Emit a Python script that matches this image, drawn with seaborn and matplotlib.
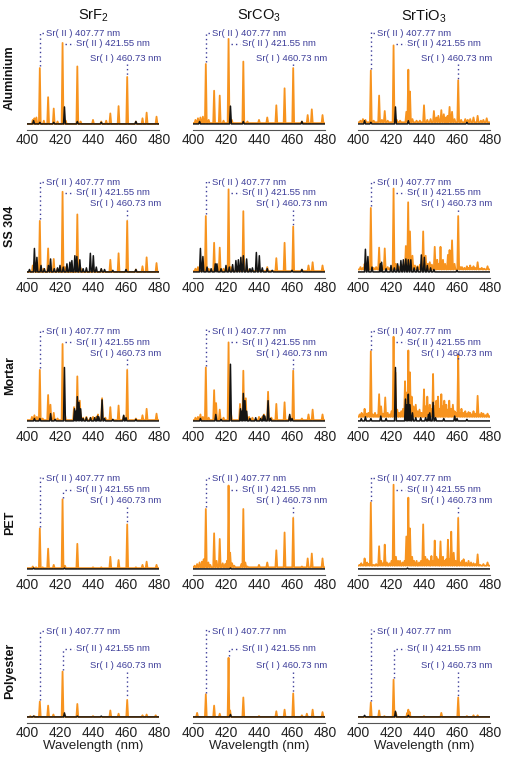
import matplotlib
matplotlib.use("Agg")
import matplotlib.pyplot as plt
import seaborn as sns

# ---------------- data ----------------
COMPOUNDS = ["SrF$_2$", "SrCO$_3$", "SrTiO$_3$"]
SUBSTRATES = ["Aluminium", "SS 304", "Mortar", "PET", "Polyester"]
XTICKS = [400, 420, 440, 460, 480]
LINE_WL = [407.77, 421.55, 460.73]
LINE_LABELS = ["Sr( II ) 407.77 nm", "Sr( II ) 421.55 nm", "Sr( I ) 460.73 nm"]
X_LABEL = "Wavelength (nm)"

# emission peaks: (wavelength nm, intensity a.u.); orange = Sr-doped, black = blank
AL_SRF2_OR = [(403.5, 0.05), (404.5, 0.07), (405.7, 0.08), (407.77, 0.69), (410.2, 0.04), (412.8, 0.33),
              (416.2, 0.19), (418.5, 0.03), (421.55, 1.0), (423.5, 0.04), (430.5, 0.71), (432.5, 0.03),
              (440.0, 0.05), (445.0, 0.03), (448.0, 0.04), (450.5, 0.13), (455.5, 0.22), (460.73, 0.58),
              (466.0, 0.03), (470.0, 0.07), (472.5, 0.14), (478.5, 0.09)]
AL_SRF2_BK = [(404.0, 0.04), (407.8, 0.02), (416.2, 0.02), (422.7, 0.21), (430.5, 0.03), (445.0, 0.02),
              (466.0, 0.03)]
AL_SRCO3_OR = [(401.5, 0.05), (403.0, 0.07), (404.5, 0.08), (406.0, 0.09), (407.77, 0.74), (409.5, 0.05),
               (412.8, 0.41), (416.2, 0.35), (418.5, 0.04), (421.55, 1.05), (423.5, 0.05), (430.5, 0.77),
               (433.0, 0.03), (440.0, 0.05), (445.0, 0.08), (450.5, 0.23), (455.5, 0.44), (460.73, 0.69),
               (466.0, 0.03), (469.5, 0.11), (472.0, 0.18), (478.5, 0.11)]
AL_SRCO3_BK = [(404.0, 0.03), (422.7, 0.22), (430.5, 0.03), (466.0, 0.03)]
AL_SRTIO3_OR = [(401.5, 0.04), (403.0, 0.06), (404.5, 0.05), (407.77, 0.66), (409.5, 0.04), (412.8, 0.35),
                (414.5, 0.05), (416.2, 0.16), (418.0, 0.04), (421.55, 0.97), (423.5, 0.05), (425.5, 0.04),
                (429.3, 0.15), (430.5, 0.67), (431.5, 0.40), (433.0, 0.06), (435.5, 0.04), (437.5, 0.04),
                (440.0, 0.23), (442.0, 0.05), (444.0, 0.06), (446.0, 0.16), (447.5, 0.08), (448.7, 0.10),
                (450.5, 0.17), (452.0, 0.12), (453.3, 0.08), (454.3, 0.10), (455.5, 0.21), (457.0, 0.15),
                (458.5, 0.06), (460.73, 0.54), (462.5, 0.05), (465.0, 0.06), (466.5, 0.05), (468.0, 0.06),
                (470.0, 0.08), (472.5, 0.10), (474.5, 0.04), (476.0, 0.05), (478.0, 0.07)]
AL_SRTIO3_BK = [(404.0, 0.04), (407.8, 0.02), (422.7, 0.21), (430.5, 0.04), (466.0, 0.02)]

SS_SRF2_OR = [(403.5, 0.08), (404.5, 0.12), (407.77, 0.63), (410.0, 0.04), (412.8, 0.29), (416.2, 0.16),
              (418.5, 0.04), (421.55, 0.99), (423.0, 0.06), (430.5, 0.71), (432.5, 0.05), (440.0, 0.04),
              (445.0, 0.03), (450.5, 0.15), (455.5, 0.23), (460.73, 0.63), (466.0, 0.03), (470.0, 0.07),
              (472.5, 0.18), (478.5, 0.11)]
SS_SRF2_BK = [(401.5, 0.03), (404.5, 0.29), (406.0, 0.18), (408.5, 0.08), (410.5, 0.04), (413.0, 0.08),
              (414.3, 0.16), (416.5, 0.04), (418.5, 0.05), (420.0, 0.08), (422.0, 0.06), (424.2, 0.10),
              (426.0, 0.12), (427.2, 0.14), (429.0, 0.20), (430.2, 0.19), (432.0, 0.15), (434.0, 0.04),
              (436.0, 0.05), (438.4, 0.23), (440.2, 0.20), (442.0, 0.06), (445.0, 0.04), (447.0, 0.03),
              (452.0, 0.02), (460.0, 0.03), (466.0, 0.03)]
SS_SRCO3_OR = [(401.5, 0.04), (403.0, 0.06), (405.5, 0.06), (407.77, 0.69), (409.5, 0.04), (412.8, 0.36),
               (416.2, 0.30), (418.5, 0.04), (421.55, 1.02), (423.0, 0.06), (430.5, 0.75), (433.0, 0.04),
               (440.0, 0.04), (445.0, 0.06), (450.5, 0.17), (455.5, 0.36), (460.73, 0.56), (466.0, 0.03),
               (470.0, 0.08), (472.5, 0.12), (478.5, 0.08)]
SS_SRCO3_BK = [(404.5, 0.29), (406.0, 0.19), (408.5, 0.06), (411.0, 0.04), (413.5, 0.10), (414.5, 0.10),
               (417.0, 0.04), (420.0, 0.08), (422.0, 0.06), (424.0, 0.09), (426.0, 0.14), (427.5, 0.15),
               (429.0, 0.18), (430.5, 0.20), (432.5, 0.16), (434.5, 0.04), (436.0, 0.05), (438.4, 0.24),
               (440.2, 0.20), (442.0, 0.05), (445.0, 0.04), (448.0, 0.02), (460.0, 0.02), (466.0, 0.03)]
SS_SRTIO3_OR = [(401.5, 0.06), (403.0, 0.05), (404.0, 0.10), (405.5, 0.06), (407.77, 0.79), (409.5, 0.05),
                (411.0, 0.06), (412.8, 0.30), (414.3, 0.08), (416.2, 0.29), (418.0, 0.06), (419.5, 0.05),
                (421.55, 1.03), (423.0, 0.10), (424.5, 0.07), (426.0, 0.08), (427.5, 0.09), (429.0, 0.32),
                (430.4, 0.86), (431.5, 0.50), (433.0, 0.20), (434.5, 0.08), (436.0, 0.07), (437.5, 0.09),
                (439.5, 0.50), (441.0, 0.20), (442.3, 0.10), (443.5, 0.12), (444.8, 0.09), (446.5, 0.31),
                (448.0, 0.15), (449.0, 0.10), (450.0, 0.31), (451.5, 0.15), (452.8, 0.10), (454.5, 0.21),
                (455.5, 0.27), (457.0, 0.39), (458.5, 0.10), (460.73, 0.69), (462.0, 0.06), (463.0, 0.06),
                (464.5, 0.05), (466.0, 0.07), (467.0, 0.05), (468.0, 0.08), (469.0, 0.05), (470.0, 0.07),
                (471.0, 0.05), (472.5, 0.12), (474.0, 0.04), (475.0, 0.05), (476.5, 0.04), (478.5, 0.07)]
SS_SRTIO3_BK = [(404.5, 0.28), (406.0, 0.19), (408.5, 0.06), (413.5, 0.10), (414.3, 0.12), (417.0, 0.04),
                (420.0, 0.08), (422.0, 0.05), (424.0, 0.10), (426.0, 0.14), (427.5, 0.15), (429.0, 0.16),
                (430.5, 0.15), (432.0, 0.15), (434.0, 0.05), (436.0, 0.06), (438.4, 0.21), (440.2, 0.18),
                (442.0, 0.08), (444.0, 0.05), (446.0, 0.03), (460.0, 0.02)]

MO_SRF2_OR = [(403.0, 0.05), (404.5, 0.07), (406.0, 0.05), (407.77, 0.63), (409.5, 0.03), (412.8, 0.32),
              (414.2, 0.20), (416.2, 0.10), (418.5, 0.03), (421.55, 0.95), (423.0, 0.08), (428.5, 0.17),
              (430.5, 0.55), (432.0, 0.25), (434.0, 0.04), (436.0, 0.05), (438.5, 0.04), (440.0, 0.05),
              (442.0, 0.05), (443.0, 0.08), (445.5, 0.28), (447.5, 0.04), (450.5, 0.17), (455.5, 0.19),
              (458.6, 0.06), (460.73, 0.63), (466.0, 0.03), (470.0, 0.07), (472.5, 0.15), (478.5, 0.09)]
MO_SRF2_BK = [(404.5, 0.03), (407.8, 0.03), (414.3, 0.09), (417.0, 0.02), (422.7, 0.66), (428.8, 0.15),
              (429.6, 0.12), (430.5, 0.30), (431.5, 0.23), (432.5, 0.15), (434.0, 0.03), (436.0, 0.04),
              (438.5, 0.04), (441.0, 0.04), (442.7, 0.06), (443.5, 0.05), (445.5, 0.26), (447.0, 0.03),
              (452.0, 0.02), (458.6, 0.07), (460.0, 0.04), (466.0, 0.02)]
MO_SRCO3_OR = [(401.5, 0.04), (403.0, 0.05), (404.5, 0.08), (406.0, 0.05), (407.77, 0.66), (409.5, 0.04),
               (412.8, 0.38), (414.0, 0.22), (416.2, 0.14), (418.5, 0.04), (421.55, 0.97), (423.0, 0.10),
               (428.5, 0.21), (430.5, 0.62), (432.0, 0.28), (434.0, 0.05), (436.0, 0.04), (440.0, 0.05),
               (442.0, 0.05), (443.0, 0.08), (445.5, 0.36), (447.5, 0.04), (450.5, 0.21), (455.5, 0.23),
               (458.6, 0.06), (460.73, 0.62), (466.0, 0.03), (470.0, 0.08), (472.5, 0.14), (478.5, 0.08)]
MO_SRCO3_BK = [(404.5, 0.03), (413.8, 0.08), (417.0, 0.02), (422.7, 0.70), (428.8, 0.15), (429.6, 0.12),
               (430.5, 0.34), (431.5, 0.25), (432.5, 0.12), (434.5, 0.03), (438.0, 0.04), (441.0, 0.03),
               (442.7, 0.07), (443.5, 0.06), (445.5, 0.25), (447.0, 0.03), (458.6, 0.08), (460.0, 0.03)]
MO_SRTIO3_OR = [(401.0, 0.08), (402.2, 0.10), (403.0, 0.07), (404.0, 0.15), (405.2, 0.09), (406.3, 0.10),
                (407.77, 0.86), (409.0, 0.08), (410.3, 0.10), (411.5, 0.07), (412.8, 0.33), (414.0, 0.18),
                (415.2, 0.09), (416.5, 0.29), (418.0, 0.10), (419.2, 0.08), (420.3, 0.12), (421.55, 1.04),
                (422.6, 0.60), (423.8, 0.14), (425.0, 0.10), (426.2, 0.12), (427.3, 0.15), (428.5, 0.49),
                (429.5, 0.35), (430.5, 0.87), (431.5, 0.60), (432.5, 0.30), (433.7, 0.18), (435.0, 0.20),
                (436.2, 0.12), (437.3, 0.14), (438.5, 0.10), (440.0, 0.39), (441.0, 0.18), (442.0, 0.30),
                (443.5, 0.20), (444.5, 0.15), (445.5, 0.58), (446.5, 0.18), (447.5, 0.25), (448.5, 0.30),
                (449.5, 0.15), (450.5, 0.33), (451.5, 0.18), (452.3, 0.25), (453.5, 0.20), (454.5, 0.14),
                (455.3, 0.25), (456.3, 0.15), (457.5, 0.20), (458.6, 0.12), (459.6, 0.10), (460.73, 0.82),
                (461.8, 0.10), (462.7, 0.15), (463.8, 0.10), (465.0, 0.12), (466.0, 0.09), (467.0, 0.11),
                (468.0, 0.10), (469.0, 0.08), (470.0, 0.12), (471.2, 0.09), (472.5, 0.31), (473.7, 0.08),
                (474.8, 0.10), (476.0, 0.09), (477.2, 0.07), (478.5, 0.09), (479.5, 0.06)]
MO_SRTIO3_BK = [(402.0, 0.03), (404.5, 0.05), (407.8, 0.03), (413.8, 0.06), (417.0, 0.03), (422.7, 0.66),
                (428.8, 0.27), (429.7, 0.20), (430.5, 0.33), (431.5, 0.20), (433.0, 0.10), (435.0, 0.04),
                (438.0, 0.04), (441.0, 0.04), (442.7, 0.08), (443.5, 0.10), (445.5, 0.23), (447.0, 0.04),
                (452.0, 0.03), (458.6, 0.06), (460.0, 0.03), (466.0, 0.02)]

PET_SRF2_OR = [(403.5, 0.03), (405.5, 0.02), (407.77, 0.50), (409.5, 0.02), (412.8, 0.25), (416.2, 0.05),
               (421.55, 0.86), (423.0, 0.04), (430.5, 0.31), (440.0, 0.02), (445.0, 0.02), (450.5, 0.15),
               (455.5, 0.11), (460.73, 0.55), (466.0, 0.02), (470.0, 0.05), (472.5, 0.09), (478.5, 0.05)]
PET_SRF2_BK = [(404.0, 0.01), (422.7, 0.01)]
PET_SRCO3_OR = [(401.0, 0.04), (402.5, 0.06), (404.0, 0.08), (405.5, 0.09), (406.5, 0.12), (407.77, 0.74),
                (409.3, 0.08), (410.5, 0.05), (412.8, 0.44), (414.3, 0.10), (416.2, 0.37), (418.0, 0.07),
                (419.5, 0.06), (420.6, 0.10), (421.55, 1.03), (422.5, 0.20), (423.7, 0.07), (425.0, 0.04),
                (429.3, 0.06), (430.5, 0.74), (431.7, 0.08), (433.0, 0.03), (440.0, 0.05), (445.0, 0.08),
                (450.5, 0.23), (455.5, 0.45), (460.73, 0.63), (466.0, 0.03), (469.5, 0.13), (472.0, 0.19),
                (478.5, 0.13)]
PET_SRCO3_BK = [(422.7, 0.01)]
PET_SRTIO3_OR = [(401.0, 0.05), (402.0, 0.07), (403.0, 0.05), (404.0, 0.13), (405.5, 0.08), (406.5, 0.06),
                 (407.77, 0.82), (409.5, 0.05), (411.0, 0.06), (412.8, 0.28), (414.0, 0.10), (415.2, 0.07),
                 (416.2, 0.30), (417.5, 0.08), (419.0, 0.07), (420.3, 0.10), (421.55, 1.04), (423.0, 0.15),
                 (424.3, 0.10), (425.5, 0.10), (427.0, 0.08), (428.2, 0.10), (429.3, 0.40), (430.5, 0.88),
                 (431.5, 0.50), (432.8, 0.15), (434.0, 0.10), (435.5, 0.10), (437.0, 0.08), (438.2, 0.10),
                 (439.5, 0.55), (440.8, 0.15), (442.0, 0.12), (443.0, 0.10), (444.5, 0.16), (445.5, 0.10),
                 (446.5, 0.35), (447.5, 0.15), (448.5, 0.12), (450.0, 0.34), (451.5, 0.15), (452.5, 0.10),
                 (453.5, 0.12), (454.5, 0.36), (455.5, 0.12), (456.5, 0.46), (458.0, 0.20), (459.2, 0.10),
                 (460.73, 0.63), (462.0, 0.08), (463.0, 0.10), (464.0, 0.12), (465.5, 0.08), (467.0, 0.10),
                 (468.5, 0.08), (470.0, 0.07), (471.2, 0.06), (472.5, 0.18), (474.0, 0.05), (476.0, 0.06),
                 (477.2, 0.04), (478.5, 0.08)]
PET_SRTIO3_BK = [(430.0, 0.01)]

PE_SRF2_OR = [(402.0, 0.01), (404.5, 0.01), (407.77, 0.19), (412.8, 0.14), (416.0, 0.03), (421.55, 0.56),
              (423.0, 0.02), (430.5, 0.16), (440.0, 0.01), (450.5, 0.08), (455.5, 0.04), (460.73, 0.21),
              (470.0, 0.02), (472.5, 0.03), (478.0, 0.02)]
PE_SRF2_BK = [(404.0, 0.01), (422.7, 0.05), (430.5, 0.01), (445.0, 0.01)]
PE_SRCO3_OR = [(402.5, 0.05), (407.77, 0.28), (412.8, 0.14), (416.2, 0.04), (421.55, 0.73), (422.5, 0.08),
               (430.5, 0.24), (440.0, 0.01), (450.5, 0.07), (455.5, 0.09), (460.73, 0.29), (466.0, 0.02),
               (469.0, 0.04), (472.5, 0.09), (478.5, 0.06)]
PE_SRCO3_BK = [(422.7, 0.03)]
PE_SRTIO3_OR = [(407.77, 0.18), (412.8, 0.08), (416.0, 0.01), (421.55, 0.46), (423.0, 0.05), (429.8, 0.05),
                (430.5, 0.09), (431.3, 0.06), (440.0, 0.01), (450.5, 0.05), (460.73, 0.24), (466.0, 0.01),
                (470.0, 0.02), (472.5, 0.02)]
PE_SRTIO3_BK = [(404.0, 0.02), (422.7, 0.07), (430.5, 0.02)]

# continuum level of the doped spectra (rows x columns)
ORANGE_BASE = [[0.00, 0.01, 0.02],
               [0.00, 0.01, 0.03],
               [0.01, 0.01, 0.05],
               [0.01, 0.02, 0.04],
               [0.00, 0.00, 0.00]]

ORANGE = [[AL_SRF2_OR, AL_SRCO3_OR, AL_SRTIO3_OR],
          [SS_SRF2_OR, SS_SRCO3_OR, SS_SRTIO3_OR],
          [MO_SRF2_OR, MO_SRCO3_OR, MO_SRTIO3_OR],
          [PET_SRF2_OR, PET_SRCO3_OR, PET_SRTIO3_OR],
          [PE_SRF2_OR, PE_SRCO3_OR, PE_SRTIO3_OR]]
BLACK = [[AL_SRF2_BK, AL_SRCO3_BK, AL_SRTIO3_BK],
         [SS_SRF2_BK, SS_SRCO3_BK, SS_SRTIO3_BK],
         [MO_SRF2_BK, MO_SRCO3_BK, MO_SRTIO3_BK],
         [PET_SRF2_BK, PET_SRCO3_BK, PET_SRTIO3_BK],
         [PE_SRF2_BK, PE_SRCO3_BK, PE_SRTIO3_BK]]

# ---------------- style / layout ----------------
sns.set_theme(style="white")
plt.rcParams["font.family"] = ["Liberation Sans", "DejaVu Sans"]
plt.rcParams["mathtext.default"] = "regular"

C_OR = "#F7931E"
C_BK = "#141414"
C_TXT = "#3d3d99"
HALF_W = 0.55

# label heights (data units) per row for the three lines
LABEL_Y = [(1.12, 0.99, 0.81), (1.11, 0.98, 0.84), (1.11, 0.97, 0.83), (1.12, 0.98, 0.84), (1.06, 0.84, 0.63)]
LABEL_X = (411.3, 429.5, 438.0)

W_PX, H_PX = 513, 763
fig = plt.figure(figsize=(W_PX / 100, H_PX / 100), dpi=100)
AX_LEFT = [27, 193, 358]
AX_W = 132
AX_H = 100
AXIS_Y = [130, 278, 427, 575, 723]


def vertices(peaks, base):
    xs, ys = [400.0], [base]
    for w, h in sorted(peaks):
        left = w - HALF_W
        if len(xs) >= 3 and xs[-1] > left:
            prev_w = xs[-2]
            xs.pop(); ys.pop()
            xs.append((prev_w + w) / 2); ys.append(base)
        else:
            xs.append(left); ys.append(base)
        xs.append(w); ys.append(h)
        xs.append(w + HALF_W); ys.append(base)
    xs.append(480.0); ys.append(base)
    return xs, ys


def peak_height(peaks, wl):
    return min(peaks, key=lambda p: abs(p[0] - wl))[1]


dot = (0, (1.0, 2.2))
for r, sub in enumerate(SUBSTRATES):
    for c, comp in enumerate(COMPOUNDS):
        ax = fig.add_axes([AX_LEFT[c] / W_PX, (H_PX - AXIS_Y[r]) / H_PX, AX_W / W_PX, AX_H / H_PX])
        xo, yo = vertices(ORANGE[r][c], ORANGE_BASE[r][c])
        xb, yb = vertices(BLACK[r][c], 0.0)
        sns.lineplot(x=xo, y=yo, ax=ax, color=C_OR, linewidth=1.3, sort=False, estimator=None)
        sns.lineplot(x=xb, y=yb, ax=ax, color=C_BK, linewidth=1.1, sort=False, estimator=None)
        ax.set_xlim(400, 480)
        ax.set_ylim(-0.075, 1.16)
        ax.set_facecolor("none")
        for s in ["top", "right", "left"]:
            ax.spines[s].set_visible(False)
        ax.spines["bottom"].set_color("#555555")
        ax.spines["bottom"].set_linewidth(0.8)
        ax.set_yticks([])
        ax.set_xticks(XTICKS)
        ax.tick_params(axis="x", direction="in", length=2.5, width=0.6, pad=2,
                       labelsize=10, colors="#555555", labelcolor="#222222")
        ax.set_ylabel("")
        ax.set_xlabel(X_LABEL if r == len(SUBSTRATES) - 1 else "", fontsize=9.5, color="#222222", labelpad=0)

        ly = LABEL_Y[r]
        # 407.77 line
        h0 = peak_height(ORANGE[r][c], LINE_WL[0])
        ax.plot([LINE_WL[0], LINE_WL[0]], [h0 + 0.02, ly[0] + 0.02], ls=dot, color=C_TXT, lw=1.0)
        ax.plot([LINE_WL[0] + 1.6, LABEL_X[0] - 0.8], [ly[0], ly[0]], ls=dot, color=C_TXT, lw=1.0)
        # 421.55 line
        h1 = peak_height(ORANGE[r][c], LINE_WL[1])
        if h1 + 0.03 < ly[1]:
            ax.plot([LINE_WL[1], LINE_WL[1]], [h1 + 0.02, ly[1]], ls=dot, color=C_TXT, lw=1.0)
        ax.plot([LINE_WL[1] + 1.6, LABEL_X[1] - 0.8], [ly[1], ly[1]], ls=dot, color=C_TXT, lw=1.0)
        # 460.73 line
        h2 = peak_height(ORANGE[r][c], LINE_WL[2])
        ax.plot([LINE_WL[2], LINE_WL[2]], [ly[2] - 0.07, h2 + 0.02], ls=dot, color=C_TXT, lw=1.0)
        for k in range(3):
            ax.text(LABEL_X[k], ly[k], LINE_LABELS[k], fontsize=6.8, color=C_TXT,
                    ha="left", va="center", clip_on=False)

        if r == 0:
            fig.text((AX_LEFT[c] + AX_W / 2) / W_PX, 1 - 16 / H_PX, comp, ha="center", va="center",
                     fontsize=10.5, color="#111111")
    fig.text(10 / W_PX, 1 - (AXIS_Y[r] - 52) / H_PX, sub, rotation=90, ha="center", va="center",
             fontsize=9, fontweight="bold", color="#111111")

fig.savefig("out.png", dpi=100)
